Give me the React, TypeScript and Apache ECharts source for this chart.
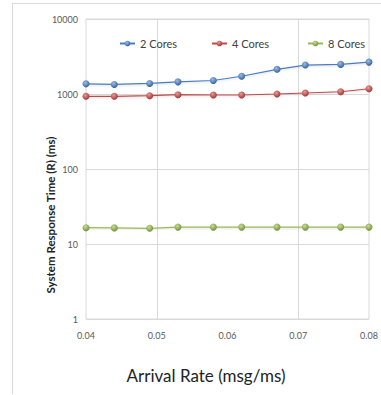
import React, { useEffect, useRef } from "react";
import * as echarts from "echarts";

const arrivalRates = [0.04, 0.044, 0.049, 0.053, 0.058, 0.062, 0.067, 0.071, 0.076, 0.08];
const cores2 = [1366, 1342, 1383, 1452, 1514, 1725, 2133, 2430, 2483, 2661];
const cores4 = [932, 932, 950, 979, 970, 970, 1000, 1031, 1072, 1174];
const cores8 = [16.5, 16.4, 16.2, 16.8, 16.8, 16.8, 16.8, 16.8, 16.8, 16.8];
const seriesNames = ["2 Cores", "4 Cores", "8 Cores"];
const gridLineX = [0.05, 0.07];
const xTitle = "Arrival Rate (msg/ms)";
const yTitle = "System Response Time (R) (ms)";

const FONT = "Lato, 'Open Sans', sans-serif";

function marker(light: string, dark: string) {
  return new echarts.graphic.RadialGradient(0.4, 0.35, 0.7, [
    { offset: 0, color: light },
    { offset: 1, color: dark },
  ]);
}

export default function App() {
  const ref = useRef<HTMLDivElement>(null);
  useEffect(() => {
    if (!ref.current) return;
    const chart = echarts.init(ref.current, undefined, { renderer: "svg" });
    const mk = (name: string, vals: number[], line: string, light: string, dark: string, extra: any = {}) => ({
      name,
      type: "line",
      data: arrivalRates.map((x, i) => [x, vals[i]]),
      symbol: "circle",
      symbolSize: 7,
      showSymbol: true,
      itemStyle: { color: marker(light, dark), borderWidth: 0 },
      lineStyle: { color: line, width: 1.2, shadowColor: "rgba(0,0,0,0.15)", shadowBlur: 2, shadowOffsetY: 1 },
      z: 3,
      ...extra,
    });
    const legendLefts = [114, 206, 302];
    chart.setOption({
      animation: false,
      backgroundColor: "#ffffff",
      textStyle: { fontFamily: FONT },
      grid: { left: 86, right: 12, top: 19, bottom: 76, show: true, borderColor: "#d9d9d9", borderWidth: 1 },
      legend: seriesNames.map((n, i) => ({
        left: legendLefts[i],
        top: 33,
        itemWidth: 15,
        itemHeight: 7,
        itemGap: 5,
        textStyle: { color: "#404040", fontSize: 11, fontFamily: FONT },
        data: [n],
      })),
      xAxis: {
        type: "value",
        min: 0.04,
        max: 0.08,
        interval: 0.01,
        axisLine: { show: false },
        axisTick: { show: false },
        splitLine: { show: false },
        axisLabel: { color: "#595959", fontSize: 9, margin: 12, formatter: (v: number) => v.toFixed(2) },
      },
      yAxis: {
        type: "log",
        logBase: 10,
        min: 1,
        max: 10000,
        axisLine: { show: false },
        axisTick: { show: false },
        splitLine: { show: true, lineStyle: { color: "#d9d9d9", width: 1 } },
        axisLabel: { color: "#595959", fontSize: 9, margin: 8, formatter: (v: number) => String(v) },
      },
      graphic: [
        { type: "line", shape: { x1: 12, y1: 3.5, x2: 381, y2: 3.5 }, style: { stroke: "#d9d9d9", lineWidth: 1 } },
        { type: "line", shape: { x1: 12.5, y1: 3, x2: 12.5, y2: 394 }, style: { stroke: "#d9d9d9", lineWidth: 1 } },
        {
          type: "text",
          x: 206,
          y: 375,
          style: { text: xTitle, fill: "#222", font: `17px ${FONT}`, align: "center", verticalAlign: "middle" },
        },
        {
          type: "text",
          x: 50,
          y: 215,
          rotation: Math.PI / 2,
          style: { text: yTitle, fill: "#222", font: `bold 11.5px ${FONT}`, align: "center", verticalAlign: "middle" },
        },
      ],
      series: [
        mk(seriesNames[0], cores2, "#4a7ebb", "#9dbde6", "#2c5d98", {
          markLine: {
            silent: true,
            symbol: "none",
            label: { show: false },
            lineStyle: { color: "#d9d9d9", type: "solid", width: 1 },
            data: gridLineX.map((x) => ({ xAxis: x })),
            z: 1,
          },
        }),
        mk(seriesNames[1], cores4, "#be4b48", "#e89a98", "#9c2f2c"),
        mk(seriesNames[2], cores8, "#98b954", "#c8dc98", "#6f8d32"),
      ],
    });
    return () => chart.dispose();
  }, []);
  return <div ref={ref} style={{ width: 381, height: 395, position: "absolute", left: 0, top: 0 }} />;
}
